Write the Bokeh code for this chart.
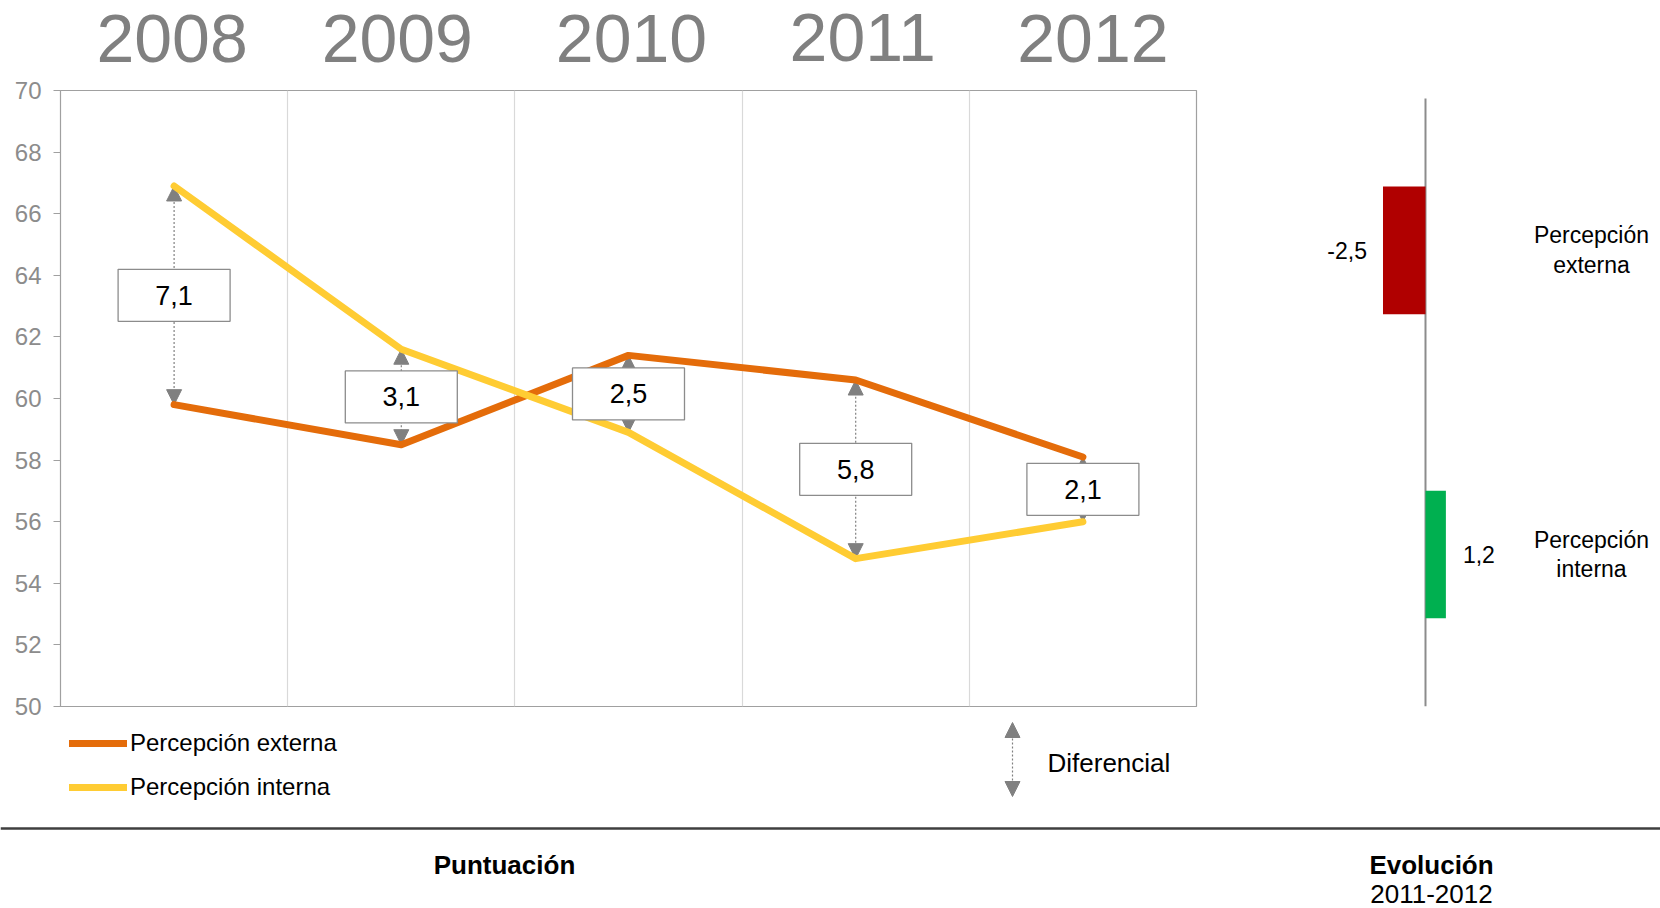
from bokeh.plotting import figure
from bokeh.models import (Range1d, ColumnDataSource, Arrow, NormalHead,
                          Legend, LegendItem, Grid, FixedTicker, Span)
from bokeh.layouts import column, row
from bokeh.embed import file_html
from bokeh.resources import INLINE
from bokeh.core.properties import value

# ---------------- data ----------------
years = ["2008", "2009", "2010", "2011", "2012"]
externa = [59.8, 58.5, 61.4, 60.6, 58.1]
interna = [66.9, 61.6, 58.9, 54.8, 56.0]
diferencial = [7.1, 3.1, 2.5, 5.8, 2.1]
y_ticks = list(range(50, 71, 2))

evol_labels = ["Percepción externa", "Percepción interna"]
evol_values = [-2.5, 1.2]
evol_names = ["Percepción\nexterna", "Percepción\ninterna"]

# ---------------- style / layout constants ----------------
FONT = "Liberation Sans"
ORANGE = "#E46C0A"
YELLOW = "#FFCC33"
GRAY = "#808080"
RED = "#B00000"
GREEN = "#00B050"

W, H = 1660, 908
HEAD_H = 76
MID_H = 644
FOOT_H = H - HEAD_H - MID_H
P_W = 1200
P_LEFT, P_RIGHT = 60, 4
P_TOP, P_BOT = 14, 14
FRAME_W = P_W - P_LEFT - P_RIGHT
YEAR_DX = [-2, -4, 3, 7, 10]     # small hand-placement nudges of the year titles (px)
YEAR_DY = [0, 0, 0, -1, 0]


def fmt(v):
    return f"{v:.1f}".replace(".", ",")


x_pos = [i + 0.5 for i in range(len(years))]
mid = [(a + b) / 2 for a, b in zip(externa, interna)]
src = ColumnDataSource(dict(x=x_pos, year=years, ext=externa, intl=interna,
                            mid=mid, diff=[fmt(d) for d in diferencial]))

# ---------------- header with year titles ----------------
h = figure(width=W, height=HEAD_H, x_range=Range1d(0, W), y_range=Range1d(HEAD_H, 0),
           output_backend="svg", toolbar_location=None,
           x_axis_location=None, y_axis_location=None, min_border=0)
h.outline_line_color = None
h.grid.visible = False
year_px = [P_LEFT + x * FRAME_W / len(years) for x in x_pos]
h.text(x=year_px, y=[38] * len(years), x_offset=YEAR_DX, y_offset=YEAR_DY,
       text=years, text_align="center", text_baseline="middle",
       text_font=value(FONT), text_font_size="68px", text_color="#808080")

# ---------------- main chart ----------------
p = figure(width=P_W, height=MID_H, x_range=Range1d(0, len(years)),
           y_range=Range1d(y_ticks[0], y_ticks[-1]),
           output_backend="svg", toolbar_location=None, x_axis_location=None,
           min_border_left=P_LEFT, min_border_right=P_RIGHT, min_border_top=P_TOP,
           min_border_bottom=P_BOT)
p.outline_line_color = "#a0a0a0"
p.outline_line_width = 1.2
p.grid.visible = False
p.add_layout(Grid(dimension=0, ticker=FixedTicker(ticks=list(range(1, len(years)))),
                  grid_line_color="#d9d9d9", grid_line_width=1.2))

ya = p.yaxis[0]
ya.ticker = FixedTicker(ticks=y_ticks)
ya.major_label_text_font = FONT
ya.major_label_text_font_size = "24px"
ya.major_label_text_color = "#8c8c8c"
ya.axis_line_color = "#a0a0a0"
ya.major_tick_line_color = "#a0a0a0"
ya.major_tick_out = 7
ya.major_tick_in = 0
ya.minor_tick_line_color = None
ya.major_label_standoff = 12

arr = Arrow(start=NormalHead(size=15, fill_color=GRAY, line_color=GRAY),
            end=NormalHead(size=15, fill_color=GRAY, line_color=GRAY),
            x_start="x", y_start="intl", x_end="x", y_end="ext", source=src,
            line_color=GRAY, line_dash="2 2", line_width=1.2, level="underlay")
p.add_layout(arr)

p.line("x", "ext", source=src, line_color=ORANGE, line_width=7,
       line_cap="round", line_join="round")
p.line("x", "intl", source=src, line_color=YELLOW, line_width=7,
       line_cap="round", line_join="round")

p.rect("x", "mid", width=112, height=52, width_units="screen", height_units="screen",
       fill_color="white", line_color="#8c8c8c", line_width=1.3, source=src)
p.text("x", "mid", text="diff", text_align="center", text_baseline="middle",
       text_font=value(FONT), text_font_size="27px", text_color="black", source=src)

# ---------------- evolution panel ----------------
n_ev = len(evol_labels)
y_ev = [n_ev - 1 - i + 0.5 for i in range(n_ev)]
esrc = ColumnDataSource(dict(
    y=y_ev, val=evol_values, lbl=[fmt(v) for v in evol_values],
    name=evol_names,
    align=["right" if v < 0 else "left" for v in evol_values],
    xoff=[-16 if v < 0 else 17 for v in evol_values],
    color=[RED if v < 0 else GREEN for v in evol_values]))

q = figure(width=W - P_W, height=MID_H, x_range=Range1d(-13.235, 13.824),
           y_range=Range1d(0, n_ev + 0.026),
           output_backend="svg", toolbar_location=None,
           x_axis_location=None, y_axis_location=None,
           min_border_left=0, min_border_right=0, min_border_top=P_TOP,
           min_border_bottom=P_BOT)
q.outline_line_color = None
q.grid.visible = False
q.segment(x0=[0], y0=[0], x1=[0], y1=[n_ev], line_color="#8c8c8c", line_width=2)
q.hbar(y="y", left=0, right="val", height=0.42, fill_color="color",
       line_color=None, source=esrc)
q.text(x="val", y="y", text="lbl", text_align="align", x_offset="xoff",
       text_baseline="middle", text_font=value(FONT), text_font_size="23px",
       text_color="black", source=esrc)
q.text(x=0, y="y", text="name", x_offset=166, text_align="center",
       text_baseline="middle", text_font=value(FONT), text_font_size="23px",
       text_line_height=1.15, text_color="black", source=esrc)

# ---------------- footer: legend, key, captions ----------------
f = figure(width=W, height=FOOT_H, x_range=Range1d(0, W), y_range=Range1d(FOOT_H, 0),
           output_backend="svg", toolbar_location=None,
           x_axis_location=None, y_axis_location=None, min_border=0)
f.outline_line_color = None
f.grid.visible = False
k_ext = f.line("x", "ext", source=src, line_color=ORANGE, line_width=7,
               line_cap="round", visible=False)
k_int = f.line("x", "intl", source=src, line_color=YELLOW, line_width=7,
               line_cap="round", visible=False)
legend = Legend(items=[LegendItem(label="Percepción externa", renderers=[k_ext]),
                       LegendItem(label="Percepción interna", renderers=[k_int])],
                location=(69, 107), orientation="vertical", glyph_width=58,
                glyph_height=28, label_height=28, label_standoff=3, spacing=16,
                padding=0, margin=0, border_line_alpha=0, background_fill_alpha=0,
                inactive_fill_alpha=0,
                label_text_font=FONT, label_text_font_size="24px",
                label_text_color="black")
f.add_layout(legend)

f.add_layout(Arrow(start=NormalHead(size=15, fill_color=GRAY, line_color=GRAY),
                   end=NormalHead(size=15, fill_color=GRAY, line_color=GRAY),
                   x_start=1012, y_start=76, x_end=1012, y_end=2,
                   line_color=GRAY, line_dash="2 2", line_width=1.2))
f.text(x=[1047], y=[42], text=["Diferencial"], text_baseline="middle",
       text_font=value(FONT), text_font_size="26px", text_color="black")

f.add_layout(Span(location=108, dimension="width", line_color="#3f3f3f", line_width=2.5))
f.text(x=[504, 1431], y=[144, 144], text=["Puntuación", "Evolución"],
       text_align="center", text_baseline="middle", text_font=value(FONT),
       text_font_style="bold", text_font_size="26px", text_color="black")
f.text(x=[1431], y=[173], text=["2011-2012"], text_align="center",
       text_baseline="middle", text_font=value(FONT), text_font_size="26px",
       text_color="black")

layout = column(h, row(p, q), f)
open("out.html", "w").write(file_html(layout, INLINE))
